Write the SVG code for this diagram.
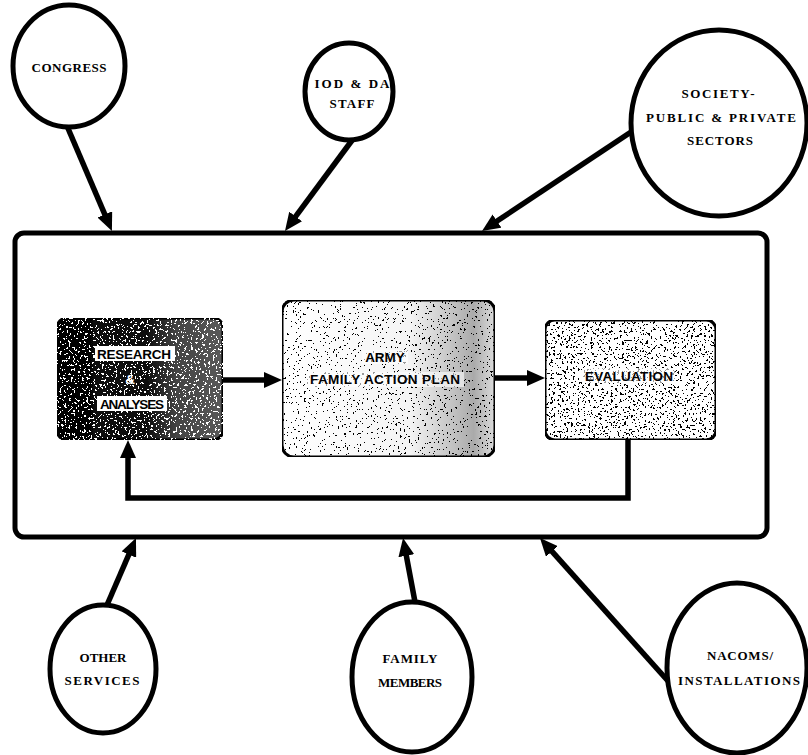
<svg xmlns="http://www.w3.org/2000/svg" width="808" height="755" viewBox="0 0 808 755">
<style>
.circ{fill:#fff;stroke:#000;stroke-width:5}
.lbl{font-family:"Liberation Serif","Times New Roman",serif;font-weight:bold;font-size:13px;fill:#000;text-anchor:middle}
.blbl{font-family:"Liberation Sans",Arial,sans-serif;font-weight:bold;font-size:13.5px;fill:#000;text-anchor:middle}
.conn{fill:none;stroke:#000;stroke-width:5.5}
.box{stroke:#000;stroke-width:3}
</style>
<defs>
<marker id="ah" viewBox="0 0 18 16" markerWidth="18" markerHeight="16" refX="4" refY="8" orient="auto" markerUnits="userSpaceOnUse">
<path d="M0,0 L18,8 L0,16 z" fill="#000"/>
</marker>
<linearGradient id="gRes" x1="0" y1="0" x2="1" y2="0">
<stop offset="0" stop-color="#000"/>
<stop offset="0.55" stop-color="#111"/>
<stop offset="0.72" stop-color="#444"/>
<stop offset="1" stop-color="#5a5a5a"/>
</linearGradient>
<linearGradient id="gArmy" x1="0" y1="0" x2="1" y2="0">
<stop offset="0" stop-color="#fff"/>
<stop offset="0.6" stop-color="#f4f4f4"/>
<stop offset="0.9" stop-color="#aaa"/>
<stop offset="1" stop-color="#ddd"/>
</linearGradient>
<filter id="spkDark" x="0" y="0" width="100%" height="100%">
<feTurbulence type="fractalNoise" baseFrequency="0.45" numOctaves="2" seed="4" result="n"/>
<feColorMatrix in="n" type="matrix" values="0 0 0 0 1  0 0 0 0 1  0 0 0 0 1  1.6 0 0 0 -0.3" result="a"/>
<feComponentTransfer in="a" result="t"><feFuncA type="discrete" tableValues="0 0 0 0 0 0 0 0 0 0 0 0 0 0 1 1 1 1 1 1"/></feComponentTransfer>
<feComposite in="t" in2="SourceGraphic" operator="in" result="s"/>
<feMerge><feMergeNode in="SourceGraphic"/><feMergeNode in="s"/></feMerge>
</filter>
<filter id="spkLight" x="0" y="0" width="100%" height="100%">
<feTurbulence type="fractalNoise" baseFrequency="0.45" numOctaves="2" seed="9" result="n"/>
<feColorMatrix in="n" type="matrix" values="0 0 0 0 0  0 0 0 0 0  0 0 0 0 0  1.6 0 0 0 -0.3" result="a"/>
<feComponentTransfer in="a" result="t"><feFuncA type="discrete" tableValues="0 0 0 0 0 0 0 0 0 0 0 0 0 0 0 0 1 1 1 1"/></feComponentTransfer>
<feComposite in="t" in2="SourceGraphic" operator="in" result="s"/>
<feMerge><feMergeNode in="SourceGraphic"/><feMergeNode in="s"/></feMerge>
</filter>
<filter id="spkMid" x="0" y="0" width="100%" height="100%">
<feTurbulence type="fractalNoise" baseFrequency="0.45" numOctaves="2" seed="21" result="n"/>
<feColorMatrix in="n" type="matrix" values="0 0 0 0 0  0 0 0 0 0  0 0 0 0 0  1.6 0 0 0 -0.3" result="a"/>
<feComponentTransfer in="a" result="t"><feFuncA type="discrete" tableValues="0 0 0 0 0 0 0 0 0 0 0 0 0 0 1 1 1 1 1 1"/></feComponentTransfer>
<feComposite in="t" in2="SourceGraphic" operator="in" result="s"/>
<feMerge><feMergeNode in="SourceGraphic"/><feMergeNode in="s"/></feMerge>
</filter>
</defs>
<rect width="808" height="755" fill="#fff"/>

<g id="system-box">
<rect x="15" y="233" width="752" height="304" rx="9" fill="none" stroke="#000" stroke-width="5"/>
</g>

<g id="connectors">
<line class="conn" x1="67" y1="126" x2="106.4" y2="218.1" marker-end="url(#ah)"/>
<line class="conn" x1="353" y1="139" x2="293.3" y2="219.7" marker-end="url(#ah)"/>
<line class="conn" x1="631" y1="132" x2="493.7" y2="223.3" marker-end="url(#ah)"/>
<line class="conn" x1="107" y1="605" x2="130.4" y2="550.9" marker-end="url(#ah)"/>
<line class="conn" x1="415" y1="602" x2="405.6" y2="551.8" marker-end="url(#ah)"/>
<line class="conn" x1="668" y1="681" x2="549.3" y2="548.4" marker-end="url(#ah)"/>
<line class="conn" x1="223" y1="380" x2="268" y2="380" marker-end="url(#ah)"/>
<line class="conn" x1="495" y1="378" x2="531" y2="378" marker-end="url(#ah)"/>
<path class="conn" d="M628,440 V498 H128 V454" marker-end="url(#ah)"/>
</g>

<g id="research">
<rect class="box" x="57" y="318" width="166" height="122" rx="10" fill="url(#gRes)" filter="url(#spkDark)"/>
<rect x="95" y="346" width="80" height="15" fill="#fff"/>
<rect x="97" y="396" width="70" height="15" fill="#fff"/>
<text class="blbl" x="134" y="359" textLength="74">RESEARCH</text>
<text class="blbl" x="130" y="384" style="fill:#fff">&amp;</text>
<text class="blbl" x="132" y="409" textLength="64">ANALYSES</text>
</g>

<g id="army-plan">
<rect class="box" x="282" y="300" width="213" height="157" rx="12" fill="url(#gArmy)" filter="url(#spkLight)"/>
<rect x="362" y="350" width="46" height="14" fill="#fff" fill-opacity="0.6"/>
<rect x="306" y="372" width="158" height="15" fill="#fff" fill-opacity="0.6"/>
<text class="blbl" x="385" y="362">ARMY</text>
<text class="blbl" x="385" y="384" textLength="150">FAMILY ACTION PLAN</text>
</g>

<g id="evaluation">
<rect class="box" x="545" y="320" width="171" height="120" rx="10" fill="#fff" filter="url(#spkMid)"/>
<rect x="583" y="368" width="92" height="15" fill="#fff" fill-opacity="0.6"/>
<text class="blbl" x="629" y="381" textLength="88">EVALUATION</text>
</g>

<g id="congress">
<ellipse class="circ" cx="69" cy="66" rx="56" ry="61"/>
<text class="lbl" x="69" y="72" textLength="75">CONGRESS</text>
</g>

<g id="iod-da-staff">
<ellipse class="circ" cx="349" cy="91.5" rx="44" ry="48.5"/>
<text class="lbl" x="352" y="88" textLength="75">IOD &amp; DA</text>
<text class="lbl" x="352" y="108" textLength="45">STAFF</text>
</g>

<g id="society">
<ellipse class="circ" cx="719" cy="123" rx="88" ry="93"/>
<text class="lbl" x="718" y="98" textLength="73">SOCIETY-</text>
<text class="lbl" x="721" y="122" textLength="150">PUBLIC &amp; PRIVATE</text>
<text class="lbl" x="720" y="145" textLength="66">SECTORS</text>
</g>

<g id="other-services">
<ellipse class="circ" cx="103" cy="669" rx="53" ry="64"/>
<text class="lbl" x="103" y="662" textLength="47">OTHER</text>
<text class="lbl" x="102" y="685" textLength="75">SERVICES</text>
</g>

<g id="family-members">
<ellipse class="circ" cx="412" cy="677" rx="60" ry="75"/>
<text class="lbl" x="410" y="663" textLength="55">FAMILY</text>
<text class="lbl" x="410" y="687" textLength="64">MEMBERS</text>
</g>

<g id="nacoms">
<ellipse class="circ" cx="737" cy="668" rx="70" ry="85"/>
<text class="lbl" x="740" y="660" textLength="66">NACOMS/</text>
<text class="lbl" x="739" y="685" textLength="122">INSTALLATIONS</text>
</g>
</svg>
